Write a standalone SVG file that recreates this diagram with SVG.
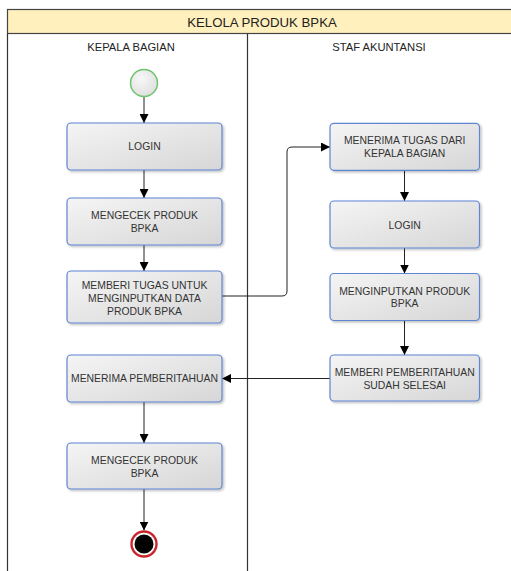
<svg xmlns="http://www.w3.org/2000/svg" width="511" height="571" viewBox="0 0 511 571">
  <defs>
    <linearGradient id="boxFill" x1="0" y1="0" x2="1" y2="1">
      <stop offset="0" stop-color="#f5f5f5"/>
      <stop offset="1" stop-color="#d6d6d6"/>
    </linearGradient>
    <radialGradient id="startFill" cx="0.4" cy="0.35" r="0.7">
      <stop offset="0" stop-color="#f8f8f8"/>
      <stop offset="1" stop-color="#dedede"/>
    </radialGradient>
    <filter id="shadow" x="-10%" y="-10%" width="130%" height="140%">
      <feDropShadow dx="1.5" dy="1.5" stdDeviation="1.2" flood-color="#000" flood-opacity="0.25"/>
    </filter>
    <marker id="arrow" markerUnits="userSpaceOnUse" markerWidth="9" markerHeight="9" viewBox="0 0 10 10" refX="10" refY="5" orient="auto">
      <path d="M0,0 L10,5 L0,10 z" fill="#000"/>
    </marker>
    <style>
      .box { fill: url(#boxFill); stroke: #5f86d3; stroke-width: 1.2; filter: url(#shadow); }
      .lbl { font-family: "Liberation Sans", Arial, sans-serif; font-size: 10.4px; fill: #333; text-anchor: middle; }
      .hdr { font-family: "Liberation Sans", Arial, sans-serif; font-size: 11.2px; fill: #222; text-anchor: middle; }
      .title { font-family: "Liberation Sans", Arial, sans-serif; font-size: 13.2px; fill: #222; text-anchor: middle; }
      .lane { stroke: #333; stroke-width: 1.2; fill: none; }
      .flow { stroke: #222; stroke-width: 1; fill: none; marker-end: url(#arrow); }
    </style>
  </defs>

  <rect width="511" height="571" fill="#fff"/>

  <!-- pool and lanes -->
  <g id="pool">
    <rect x="7.5" y="9.5" width="510" height="24" fill="#fff0bd" stroke="#444" stroke-width="1.2"/>
    <text class="title" x="262" y="27.3">KELOLA PRODUK BPKA</text>
    <line class="lane" x1="7.5" y1="33.5" x2="7.5" y2="571"/>
    <line class="lane" x1="247.5" y1="33.5" x2="247.5" y2="571"/>
    <text class="hdr" x="131" y="50.6">KEPALA BAGIAN</text>
    <text class="hdr" x="379" y="50.6">STAF AKUNTANSI</text>
  </g>

  <!-- connectors -->
  <g id="connectors">
    <line class="flow" x1="144" y1="96.5" x2="144" y2="123"/>
    <line class="flow" x1="144" y1="170" x2="144" y2="198"/>
    <line class="flow" x1="144" y1="245" x2="144" y2="271"/>
    <path class="flow" d="M222,296 H282 Q287,296 287,291 V152 Q287,147 292,147 H330"/>
    <line class="flow" x1="404.5" y1="170.3" x2="404.5" y2="201"/>
    <line class="flow" x1="404.5" y1="248" x2="404.5" y2="273.5"/>
    <line class="flow" x1="404.5" y1="320.5" x2="404.5" y2="355"/>
    <line class="flow" x1="330" y1="378.5" x2="222" y2="378.5"/>
    <line class="flow" x1="144" y1="402" x2="144" y2="443"/>
    <line class="flow" x1="144" y1="489" x2="144" y2="530.5"/>
  </g>

  <!-- Kepala Bagian lane -->
  <g id="start">
    <circle cx="144" cy="83" r="13.5" fill="url(#startFill)" stroke="#6cc66c" stroke-width="1.5"/>
  </g>
  <g id="kb-login">
    <rect class="box" x="67" y="123" width="155" height="47" rx="4"/>
    <text class="lbl" x="144.5" y="150.2">LOGIN</text>
  </g>
  <g id="kb-cek1">
    <rect class="box" x="67" y="198" width="155" height="47" rx="4"/>
    <text class="lbl" x="144.5" y="218.7">MENGECEK PRODUK</text>
    <text class="lbl" x="144.5" y="231.9">BPKA</text>
  </g>
  <g id="kb-tugas">
    <rect class="box" x="67" y="271" width="155" height="52" rx="4"/>
    <text class="lbl" x="144.5" y="288.7">MEMBERI TUGAS UNTUK</text>
    <text class="lbl" x="144.5" y="301.9">MENGINPUTKAN DATA</text>
    <text class="lbl" x="144.5" y="315.1">PRODUK BPKA</text>
  </g>
  <g id="kb-terima">
    <rect class="box" x="67" y="355" width="155" height="47" rx="4"/>
    <text class="lbl" x="144.5" y="382.2">MENERIMA PEMBERITAHUAN</text>
  </g>
  <g id="kb-cek2">
    <rect class="box" x="67" y="443" width="155" height="46" rx="4"/>
    <text class="lbl" x="144.5" y="464.4">MENGECEK PRODUK</text>
    <text class="lbl" x="144.5" y="477.3">BPKA</text>
  </g>
  <g id="end">
    <circle cx="144" cy="544" r="12.5" fill="#fff" stroke="#c8262c" stroke-width="2.4"/>
    <circle cx="144" cy="544" r="9.5" fill="#000"/>
  </g>

  <!-- Staf Akuntansi lane -->
  <g id="sa-terima">
    <rect class="box" x="330" y="123.3" width="149.5" height="47" rx="4"/>
    <text class="lbl" x="404.7" y="143.7">MENERIMA TUGAS DARI</text>
    <text class="lbl" x="404.7" y="157">KEPALA BAGIAN</text>
  </g>
  <g id="sa-login">
    <rect class="box" x="330" y="201" width="149.5" height="47" rx="4"/>
    <text class="lbl" x="404.7" y="228.7">LOGIN</text>
  </g>
  <g id="sa-input">
    <rect class="box" x="330" y="273.5" width="149.5" height="47" rx="4"/>
    <text class="lbl" x="404.7" y="294.9">MENGINPUTKAN PRODUK</text>
    <text class="lbl" x="404.7" y="307.4">BPKA</text>
  </g>
  <g id="sa-beri">
    <rect class="box" x="330" y="355" width="149.5" height="46" rx="4"/>
    <text class="lbl" x="404.7" y="376.4">MEMBERI PEMBERITAHUAN</text>
    <text class="lbl" x="404.7" y="388.7">SUDAH SELESAI</text>
  </g>
</svg>
